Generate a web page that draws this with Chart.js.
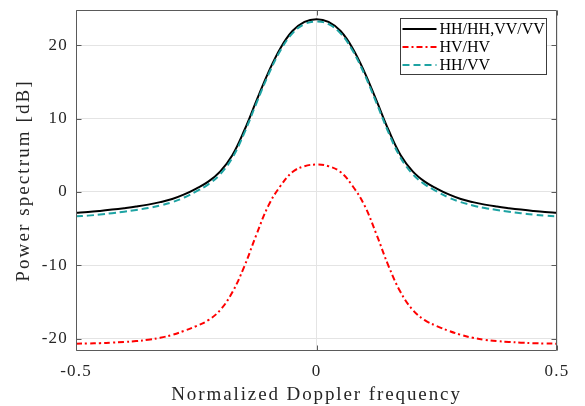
<!DOCTYPE html>
<html><head><meta charset="utf-8">
<script src="https://cdn.jsdelivr.net/npm/chart.js@4/dist/chart.umd.min.js"></script>
<style>html,body{margin:0;padding:0;background:#fff;overflow:hidden}</style>
</head><body>
<canvas id="c" width="585" height="406" style="display:block;width:585px;height:406px"></canvas>
<script>
const freq = [-0.5,-0.475,-0.45,-0.425,-0.4,-0.375,-0.35,-0.325,-0.3,-0.275,-0.25,-0.225,-0.2,-0.175,-0.15,-0.125,-0.1,-0.075,-0.05,-0.025,
  0,
  0.025,0.05,0.075,0.1,0.125,0.15,0.175,0.2,0.225,0.25,0.275,0.3,0.325,0.35,0.375,0.4,0.425,0.45,0.475,0.5];
const hhhhVvvv = [-2.85,-2.75,-2.6,-2.42,-2.22,-2.0,-1.74,-1.4,-0.97,-0.35,0.45,1.4,2.8,5.0,8.4,12.4,16.3,19.6,21.93,23.18,
  23.55,
  23.18,21.93,19.6,16.3,12.4,8.4,5.0,2.8,1.4,0.45,-0.35,-0.97,-1.4,-1.74,-2.0,-2.22,-2.42,-2.6,-2.75,-2.85];
const hvhv = [-20.7,-20.68,-20.63,-20.56,-20.47,-20.35,-20.17,-19.9,-19.5,-18.95,-18.3,-17.5,-16.1,-13.7,-10.15,-5.85,-1.88,0.8,2.7,3.5,
  3.72,
  3.5,2.7,0.8,-1.88,-5.85,-10.15,-13.7,-16.1,-17.5,-18.3,-18.95,-19.5,-19.9,-20.17,-20.35,-20.47,-20.56,-20.63,-20.68,-20.7];
const hhvv = [-3.34,-3.24,-3.09,-2.91,-2.7,-2.47,-2.2,-1.85,-1.4,-0.77,0.07,1.03,2.42,4.63,8.05,12.07,15.98,19.28,21.62,22.88,
  23.22,
  22.88,21.62,19.28,15.98,12.07,8.05,4.63,2.42,1.03,0.07,-0.77,-1.4,-1.85,-2.2,-2.47,-2.7,-2.91,-3.09,-3.24,-3.34];
const seriesLabels = ['HH/HH,VV/VV','HV/HV','HH/VV'];
const xTicks = [-0.5, 0, 0.5];
const yTicks = [-20, -10, 0, 10, 20];
const xTitle = 'Normalized Doppler frequency';
const yTitle = 'Power spectrum [dB]';

const FONT = "'Liberation Serif', 'Times New Roman', serif";
const pts = arr => freq.map((f, i) => ({x: f, y: arr[i]}));

const textPlugin = {
  id: 'textSpacing',
  beforeDraw(chart) { chart.ctx.letterSpacing = '1.2px'; },
  afterUpdate(chart) {
    Object.values(chart.scales).forEach(s => {
      if (s._titlePatched) return;
      const orig = s.drawTitle.bind(s);
      s.drawTitle = function () {
        const c = this.ctx, prev = c.letterSpacing;
        c.letterSpacing = this.axis === 'y' ? '2.1px' : '1.9px';
        orig();
        c.letterSpacing = prev;
      };
      s._titlePatched = true;
    });
  }
};

const framePlugin = {
  id: 'frame',
  afterDraw(chart) {
    const {ctx, chartArea: a, scales: {x, y}} = chart;
    ctx.save();
    ctx.letterSpacing = '0px';
    const L = Math.round(a.left) + 0.5, R = Math.round(a.right) - 0.5;
    const T = Math.round(a.top) + 0.5, B = Math.round(a.bottom) - 0.5;
    ctx.strokeStyle = '#5a5a5a';
    ctx.lineWidth = 1;
    ctx.beginPath();
    ctx.rect(L, T, R - L, B - T);
    xTicks.forEach(v => {
      const p = Math.round(x.getPixelForValue(v)) + 0.5;
      ctx.moveTo(p, B); ctx.lineTo(p, B - 5);
      ctx.moveTo(p, T); ctx.lineTo(p, T + 5);
    });
    yTicks.forEach(v => {
      const p = Math.round(y.getPixelForValue(v)) + 0.5;
      ctx.moveTo(L, p); ctx.lineTo(L + 5, p);
      ctx.moveTo(R, p); ctx.lineTo(R - 5, p);
    });
    ctx.stroke();

    // legend
    ctx.font = '16px ' + FONT;
    const ds = chart.data.datasets;
    const tw = Math.max(...ds.map(d => ctx.measureText(d.label).width));
    const lineLen = 34, rowH = 18;
    const bw = Math.round(2 + lineLen + 3 + tw + 2);
    const bh = rowH * ds.length + 2;
    const bx = Math.round(a.right - 11 - bw) + 0.5;
    const by = Math.round(a.top + 8) + 0.5;
    ctx.fillStyle = '#fff';
    ctx.fillRect(bx, by, bw, bh);
    ctx.strokeStyle = '#3c3c3c';
    ctx.strokeRect(bx, by, bw, bh);
    ds.forEach((d, i) => {
      const cy = Math.round(by + 1 + rowH * i + rowH / 2);
      ctx.save();
      ctx.strokeStyle = d.borderColor;
      ctx.lineWidth = d.borderWidth;
      ctx.setLineDash(d.borderDash || []);
      ctx.beginPath();
      ctx.moveTo(bx + 2, cy);
      ctx.lineTo(bx + 2 + lineLen, cy);
      ctx.stroke();
      ctx.restore();
      ctx.fillStyle = '#000';
      ctx.textBaseline = 'middle';
      ctx.textAlign = 'left';
      ctx.fillText(d.label, bx + 2 + lineLen + 3, cy + 1);
    });
    ctx.restore();
  }
};

new Chart(document.getElementById('c'), {
  type: 'line',
  data: {
    datasets: [
      {label: seriesLabels[0], data: pts(hhhhVvvv), borderColor: '#000000', borderWidth: 2, order: 2},
      {label: seriesLabels[1], data: pts(hvhv), borderColor: '#ff0000', borderWidth: 2, borderDash: [6, 3, 2, 3], order: 1},
      {label: seriesLabels[2], data: pts(hhvv), borderColor: '#1ea3a3', borderWidth: 2, borderDash: [7, 4], order: 0}
    ]
  },
  options: {
    responsive: false,
    animation: false,
    devicePixelRatio: 1,
    elements: {point: {radius: 0}, line: {tension: 0.4, fill: false}},
    layout: {padding: {left: 0, right: 28, top: 10, bottom: 0}},
    plugins: {legend: {display: false}, tooltip: {enabled: false}},
    scales: {
      x: {
        type: 'linear', min: -0.5, max: 0.5,
        afterBuildTicks: s => { s.ticks = xTicks.map(v => ({value: v})); },
        afterFit: s => { s.height = 55; s.paddingLeft = 0; s.paddingRight = 0; },
        grid: {color: '#e4e4e4', drawTicks: false, lineWidth: 1},
        border: {display: false},
        ticks: {padding: 10, color: '#262626', font: {family: FONT, size: 17}, maxRotation: 0,
                callback: v => String(v)},
        title: {display: true, text: xTitle, color: '#262626', font: {family: FONT, size: 19, lineHeight: 1.2}, padding: {top: 0, bottom: 0}}
      },
      y: {
        type: 'linear', min: -21.7, max: 24.8,
        afterBuildTicks: s => { s.ticks = yTicks.map(v => ({value: v})); },
        afterFit: s => { s.width = 76; s.paddingTop = 0; s.paddingBottom = 0; },
        grid: {color: '#e4e4e4', drawTicks: false, lineWidth: 1},
        border: {display: false},
        ticks: {padding: 8, color: '#262626', font: {family: FONT, size: 17}, callback: v => String(v)},
        title: {display: true, text: yTitle, color: '#262626', font: {family: FONT, size: 19, lineHeight: 1.2}, padding: {top: 13, bottom: 0}}
      }
    }
  },
  plugins: [textPlugin, framePlugin]
});
</script>
</body></html>
